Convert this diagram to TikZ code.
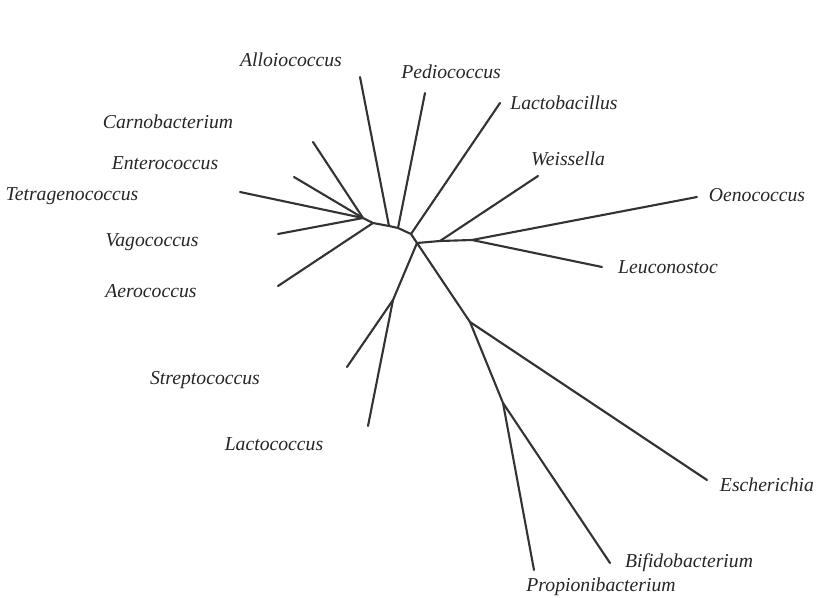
\documentclass[tikz,border=0pt]{standalone}
\usepackage{fontspec}
\setmainfont{Liberation Serif}
\tikzset{
  taxon/.style={font=\fontsize{14}{16}\selectfont\itshape, text=black!85, inner sep=1pt},
  branch/.style={line width=1.5pt, black!80, line cap=round, line join=round}
}
\begin{document}
\begin{tikzpicture}[x=0.025cm, y=-0.025cm]
    \useasboundingbox (0, 0) rectangle (818, 598);
    % inner nodes of the tree
    \coordinate (lowA) at (363, 218);
    \coordinate (lowB) at (373, 223);
    \coordinate (arcC) at (389, 226);
    \coordinate (arcD) at (398, 228);
    \coordinate (arcE) at (411, 234);
    \coordinate (hub) at (417, 243);
    \coordinate (weisJ) at (440, 241);
    \coordinate (leucJ) at (472, 240);
    \coordinate (strepJ) at (393, 300);
    \coordinate (eschJ) at (470, 322);
    \coordinate (propJ) at (503, 403);
    % tips
    \coordinate (tetraT) at (240, 192);
    \coordinate (enteroT) at (294, 177);
    \coordinate (carnoT) at (313, 142);
    \coordinate (vagoT) at (278, 234);
    \coordinate (aeroT) at (278, 286);
    \coordinate (alloT) at (360, 77);
    \coordinate (pedioT) at (425, 93);
    \coordinate (lbT) at (500, 103);
    \coordinate (weisT) at (538, 176);
    \coordinate (oenoT) at (697, 197);
    \coordinate (leucT) at (602, 267);
    \coordinate (strepT) at (347, 367);
    \coordinate (lcT) at (368, 426);
    \coordinate (eschT) at (707, 480);
    \coordinate (propT) at (534, 570);
    \coordinate (bifiT) at (610, 563);
    % labels
    \node[taxon] (allo) at (291, 60) {Alloiococcus};
    \node[taxon] (pedio) at (451, 72) {Pediococcus};
    \node[taxon] (lb) at (564, 103) {Lactobacillus};
    \node[taxon] (weis) at (568, 159) {Weissella};
    \node[taxon] (oeno) at (757, 195) {Oenococcus};
    \node[taxon] (leuc) at (668, 267) {Leuconostoc};
    \node[taxon] (carno) at (168, 122) {Carnobacterium};
    \node[taxon] (entero) at (165, 163) {Enterococcus};
    \node[taxon] (tetra) at (72, 196) {Tetragenococcus};
    \node[taxon] (vago) at (152, 242) {Vagococcus};
    \node[taxon] (aero) at (151, 291) {Aerococcus};
    \node[taxon] (strep) at (205, 380) {Streptococcus};
    \node[taxon] (lc) at (274, 444) {Lactococcus};
    \node[taxon] (esch) at (767, 485) {Escherichia};
    \node[taxon] (bifi) at (689, 563) {Bifidobacterium};
    \node[taxon] (prop) at (601, 587) {Propionibacterium};
    % branches
    \draw[branch] (tetraT) -- (lowA);
    \draw[branch] (enteroT) -- (lowA);
    \draw[branch] (carnoT) -- (lowA);
    \draw[branch] (vagoT) -- (lowA);
    \draw[branch] (lowA) -- (lowB) -- (arcC) -- (arcD) -- (arcE) -- (hub);
    \draw[branch] (aeroT) -- (lowB);
    \draw[branch] (alloT) -- (arcC);
    \draw[branch] (pedioT) -- (arcD);
    \draw[branch] (lbT) -- (arcE);
    \draw[branch] (hub) -- (weisJ) -- (leucJ);
    \draw[branch] (weisT) -- (weisJ);
    \draw[branch] (leucJ) -- (oenoT);
    \draw[branch] (leucJ) -- (leucT);
    \draw[branch] (hub) -- (strepJ);
    \draw[branch] (strepJ) -- (strepT);
    \draw[branch] (strepJ) -- (lcT);
    \draw[branch] (hub) -- (eschJ) -- (propJ);
    \draw[branch] (eschJ) -- (eschT);
    \draw[branch] (propJ) -- (propT);
    \draw[branch] (propJ) -- (bifiT);
\end{tikzpicture}
\end{document}
